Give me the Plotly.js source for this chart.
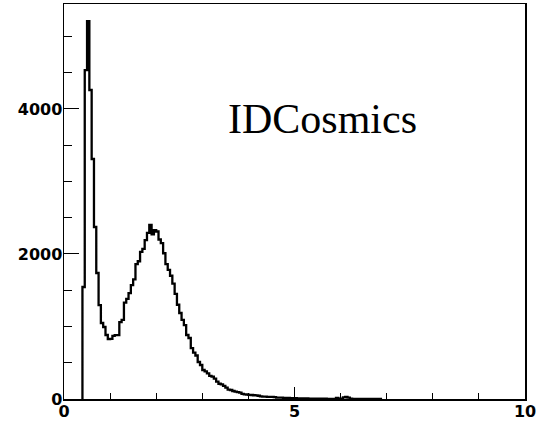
<!DOCTYPE html>
<html>
<head>
<meta charset="utf-8">
<script src="https://cdn.plot.ly/plotly-3.0.1.min.js"></script>
<style>html,body{margin:0;padding:0;background:#fff;}#chart{width:538px;height:422px;}</style>
</head>
<body>
<div id="chart"></div>
<script>
// Histogram: first bin low edge and bin width, then counts per bin
const binLow = 0.40;
const binWidth = 0.05;
const counts = [
  1545, 4537, 5213, 4262, 3310, 2372, 1738, 1296, 1048, 993,   // 0.40 - 0.85
  883, 827, 830, 870, 880, 880, 1060, 1090, 1330, 1380,        // 0.90 - 1.35
  1460, 1570, 1650, 1860, 1900, 2030, 2070, 2190, 2290, 2400,  // 1.40 - 1.85
  2270, 2330, 2310, 2200, 2150, 2010, 1860, 1780, 1700, 1590,  // 1.90 - 2.35
  1450, 1300, 1186, 1090, 1020, 883, 841, 703, 640, 600,       // 2.40 - 2.85
  510, 469, 400, 380, 354, 320, 308, 280, 239, 210,            // 2.90 - 3.35
  202, 180, 156, 130, 124, 110, 101, 95, 87, 70,               // 3.40 - 3.85
  65, 62, 58, 55, 52, 50, 45, 35, 33, 32,                      // 3.90 - 4.35
  30, 30, 28, 25, 20, 18, 18, 16, 15, 14,                      // 4.40 - 4.85
  12, 12, 10, 9, 9, 8, 7, 7, 6, 6,                             // 4.90 - 5.35
  5, 5, 5, 4, 4, 4, 3, 3, 3, 3,                                // 5.40 - 5.85
  15, 3, 4, 22, 28, 20, 4, 3, 2, 2,                            // 5.90 - 6.35
  2, 2, 1, 1, 1, 1, 1, 1, 0, 0                                 // 6.40 - 6.85
];
const xTickVals = [0, 5, 10];
const xTickText = ['0', '5', '10'];
const yTickVals = [0, 2000, 4000];
const yTickText = ['0', '2000', '4000'];
const labelText = 'IDCosmics';

// build step outline from bin edges
const xs = [binLow];
const ys = [0];
counts.forEach((c, i) => { xs.push(binLow + i * binWidth); ys.push(c); });
xs.push(binLow + counts.length * binWidth);
ys.push(0);

const tickFont = {family: 'DejaVu Sans, Arial, sans-serif', size: 16, color: '#000', weight: 'bold'};

const trace = {
  x: xs, y: ys, type: 'scatter', mode: 'lines',
  line: {shape: 'hv', color: '#000', width: 2.3},
  hoverinfo: 'skip'
};

const layout = {
  width: 538, height: 422,
  margin: {l: 64, r: 13, t: 4, b: 23, pad: 0},
  paper_bgcolor: '#fff', plot_bgcolor: '#fff',
  showlegend: false,
  xaxis: {
    range: [0, 10], showgrid: false, zeroline: false,
    showline: true, linecolor: '#000', linewidth: 1.5, mirror: true,
    ticks: 'inside', ticklen: 12, tickwidth: 1, tickcolor: '#000',
    tickmode: 'array', tickvals: xTickVals, ticktext: xTickText,
    ticklabelstandoff: -3,
    minor: {dtick: 1, ticks: 'inside', ticklen: 6, tickwidth: 1, tickcolor: '#000', showgrid: false},
    tickfont: tickFont
  },
  yaxis: {
    range: [0, 5448], showgrid: false, zeroline: false,
    showline: true, linecolor: '#000', linewidth: 1.5, mirror: true,
    ticks: 'inside', ticklen: 15, tickwidth: 1, tickcolor: '#000',
    tickmode: 'array', tickvals: yTickVals, ticktext: yTickText,
    ticklabelstandoff: -3,
    minor: {dtick: 500, ticks: 'inside', ticklen: 8, tickwidth: 1, tickcolor: '#000', showgrid: false},
    tickfont: tickFont
  },
  annotations: [{
    text: labelText, xref: 'paper', yref: 'paper',
    x: 0.351, y: 0.7076, xanchor: 'left', yanchor: 'middle',
    showarrow: false,
    font: {family: 'Liberation Serif, Times New Roman, serif', size: 42, color: '#000'}
  }]
};

Plotly.newPlot('chart', [trace], layout, {staticPlot: true, displayModeBar: false});
</script>
</body>
</html>
